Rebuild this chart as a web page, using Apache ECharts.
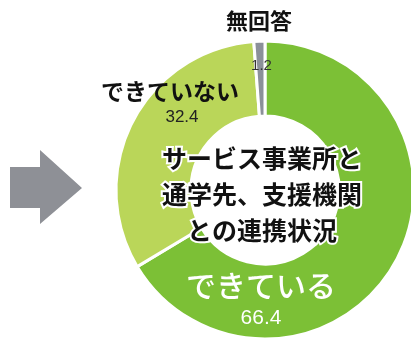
<!DOCTYPE html>
<html><head><meta charset="utf-8">
<script src="https://cdn.jsdelivr.net/npm/echarts@6/dist/echarts.min.js"></script>
<style>html,body{margin:0;padding:0;background:#fff}#c{width:411px;height:338px}</style>
</head><body><div id="c"></div>
<script>
var categories = ['できている', 'できていない', '無回答'];
var values = [66.4, 32.4, 1.2];
var colors = ['#7cc036', '#bad659', '#8b9099'];
var centerLines = ['サービス事業所と', '通学先、支援機関', 'との連携状況'];

var FONT = '"Noto Sans CJK JP", "Noto Sans", sans-serif';
var NUMF = '"Liberation Sans", Arial, sans-serif';
var chart = echarts.init(document.getElementById('c'), null, {renderer: 'canvas'});

var labelCfg = [
  {x: 261, y: 301, rich: {n: {fontSize: 30, color: '#fff', lineHeight: 34, fontFamily: FONT, fontWeight: 500}, v: {fontSize: 21, color: '#fff', lineHeight: 30, fontFamily: NUMF}}},
  {x: 170, y: 104, rich: {n: {fontSize: 23, color: '#111', lineHeight: 27, fontFamily: FONT, fontWeight: 'bold'}, v: {fontSize: 17, color: '#222', lineHeight: 26, padding: [0, 0, 0, 24], fontFamily: NUMF}}},
  {x: 259, y: 44, rich: {n: {fontSize: 22, color: '#111', lineHeight: 44, fontFamily: FONT, fontWeight: 'bold'}, v: {fontSize: 15, color: '#333', lineHeight: 46, padding: [0, 0, 0, 5], fontFamily: NUMF}}}
];

var data = categories.map(function (c, i) {
  return {
    name: c, value: values[i],
    itemStyle: {color: colors[i]},
    label: {show: true, formatter: '{n|{b}}\n{v|{c}}', rich: labelCfg[i].rich, align: 'center', verticalAlign: 'middle'}
  };
});

chart.setOption({
  animation: false,
  series: [{
    type: 'pie',
    center: [265, 190],
    radius: [74, 149],
    startAngle: 90,
    clockwise: true,
    silent: true,
    itemStyle: {borderColor: '#fff', borderWidth: 3},
    label: {position: 'inside'},
    labelLine: {show: false},
    labelLayout: function (p) {
      var c = labelCfg[p.dataIndex];
      return {x: c.x, y: c.y, align: 'center', verticalAlign: 'middle'};
    },
    data: data
  }],
  graphic: [
    {
      type: 'polygon', z: 10,
      shape: {points: [[10, 167], [40, 167], [40, 150], [82, 188], [40, 224], [40, 208], [10, 208]]},
      style: {fill: '#8e9096'}
    },
    {
      type: 'text', z: 20, x: 262, y: 194,
      style: {
        text: centerLines.join('\n'),
        fontSize: 25, fontFamily: FONT, fontWeight: 'bold',
        lineHeight: 36, fill: '#111', stroke: '#fff', lineWidth: 4,
        align: 'center', verticalAlign: 'middle'
      }
    }
  ]
});
</script></body></html>
